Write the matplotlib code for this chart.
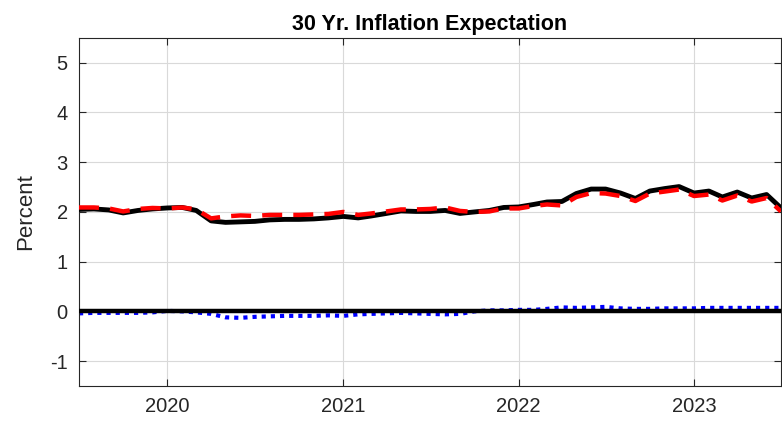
import numpy as np
import pandas as pd
import matplotlib
matplotlib.use("Agg")
import matplotlib.pyplot as plt
import matplotlib.dates as mdates

plt.rcParams['font.family'] = ['Liberation Sans', 'DejaVu Sans']
plt.rcParams['axes.unicode_minus'] = False

# monthly dates, Jul 2019 - Jul 2023
dates = pd.date_range("2019-07-01", "2023-07-01", freq="MS")

# black solid series
actual = [2.05, 2.06, 2.04, 1.98, 2.03, 2.06, 2.08, 2.09, 2.03, 1.82, 1.79, 1.80,
          1.81, 1.84, 1.85, 1.85, 1.86, 1.88, 1.91, 1.88, 1.92, 1.97, 2.02, 2.01,
          2.01, 2.03, 1.97, 2.00, 2.03, 2.09, 2.10, 2.15, 2.20, 2.21, 2.37, 2.46,
          2.46, 2.38, 2.27, 2.42, 2.47, 2.51, 2.38, 2.42, 2.30, 2.40, 2.28, 2.35,
          2.08]

# blue dotted: difference (actual - fitted)
diff = [-0.04, -0.03, -0.03, -0.03, -0.03, -0.02, 0.01, 0.00, -0.02, -0.05, -0.12, -0.13,
        -0.11, -0.10, -0.09, -0.09, -0.09, -0.08, -0.09, -0.06, -0.05, -0.04, -0.03, -0.04,
        -0.05, -0.06, -0.05, 0.00, 0.02, 0.02, 0.03, 0.03, 0.05, 0.08, 0.07, 0.08,
        0.09, 0.06, 0.05, 0.05, 0.06, 0.06, 0.06, 0.07, 0.07, 0.07, 0.07, 0.07,
        0.07]

# red dashed series
fitted = [a - d for a, d in zip(actual, diff)]

fig = plt.figure(figsize=(7.82, 4.26), dpi=100)
ax = fig.add_axes([0.101, 0.094, 0.8977, 0.817])

ax.axhline(0, color='black', lw=3.2, zorder=3)
ax.plot(dates, actual, color='black', lw=3.5, zorder=4)
ax.plot(dates, fitted, color='red', lw=3.2, dashes=(4.5, 2.5), zorder=5)
ax.plot(dates, diff, color='blue', lw=3.0, dashes=(1, 1.2), zorder=2)

ax.set_xlim(pd.Timestamp("2019-07-01"), pd.Timestamp("2023-07-01"))
ax.set_ylim(-1.5, 5.5)
ax.set_yticks(range(-1, 6))
ax.xaxis.set_major_locator(mdates.YearLocator())
ax.xaxis.set_major_formatter(mdates.DateFormatter('%Y'))

ax.grid(True, color='#d9d9d9', lw=0.8)
ax.set_axisbelow(True)
ax.tick_params(direction='in', top=True, right=True, labelsize=14.5, length=5,
               width=0.8, colors='#262626', pad=8)
for s in ax.spines.values():
    s.set_color('#262626')
    s.set_linewidth(0.8)

ax.set_ylabel('Percent', fontsize=16, color='#262626', labelpad=10)
ax.set_title('30 Yr. Inflation Expectation', fontsize=15.5, fontweight='bold', pad=6)

fig.savefig('out.png', dpi=100)
